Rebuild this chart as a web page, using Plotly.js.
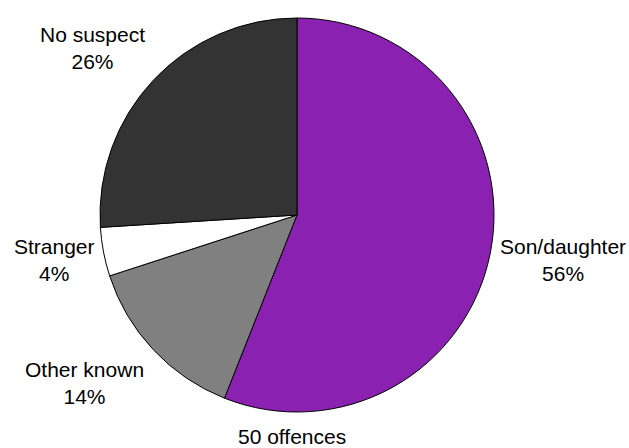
<!DOCTYPE html>
<html>
<head>
<meta charset="utf-8">
<script src="https://cdn.plot.ly/plotly-3.0.1.min.js"></script>
<style>html,body{margin:0;padding:0;background:#fff;}#chart{width:629px;height:448px;}</style>
</head>
<body>
<div id="chart"></div>
<script>
// Data
const categories = ["Son/daughter", "Other known", "Stranger", "No suspect"];
const offences = [28, 7, 2, 13];
const totalLabel = "50 offences";
const sliceColors = ["#8B21B1", "#808080", "#FFFFFF", "#333333"];

const total = offences.reduce((a, b) => a + b, 0);

// Label placements (pixel centres, layout only)
const W = 629, H = 448;
const labelPos = [[563, 260], [84, 383], [54, 260], [92, 48]];

const annotations = categories.map((c, i) => ({
  text: c + "<br>" + Math.round(offences[i] / total * 100) + "%",
  x: labelPos[i][0] / W, y: 1 - labelPos[i][1] / H,
  xref: "paper", yref: "paper", xanchor: "center", yanchor: "middle",
  showarrow: false, align: "center",
  font: {family: "Liberation Sans, Arial, sans-serif", size: 21, color: "#000"}
}));
annotations.push({
  text: totalLabel, x: 292 / W, y: 1 - 436 / H,
  xref: "paper", yref: "paper", xanchor: "center", yanchor: "middle",
  showarrow: false,
  font: {family: "Liberation Sans, Arial, sans-serif", size: 21, color: "#000"}
});

const cx = 297, cy = 215, r = 197;
const trace = {
  type: "pie",
  labels: categories,
  values: offences,
  sort: false,
  direction: "clockwise",
  rotation: 0,
  textinfo: "none",
  hoverinfo: "label+percent",
  marker: {colors: sliceColors, line: {color: "#000", width: 1}},
  domain: {x: [(cx - r) / W, (cx + r) / W], y: [1 - (cy + r) / H, 1 - (cy - r) / H]},
  showlegend: false
};

Plotly.newPlot("chart", [trace], {
  width: W, height: H,
  margin: {l: 0, r: 0, t: 0, b: 0},
  paper_bgcolor: "#fff",
  showlegend: false,
  annotations: annotations
}, {displayModeBar: false, staticPlot: true});
</script>
</body>
</html>
